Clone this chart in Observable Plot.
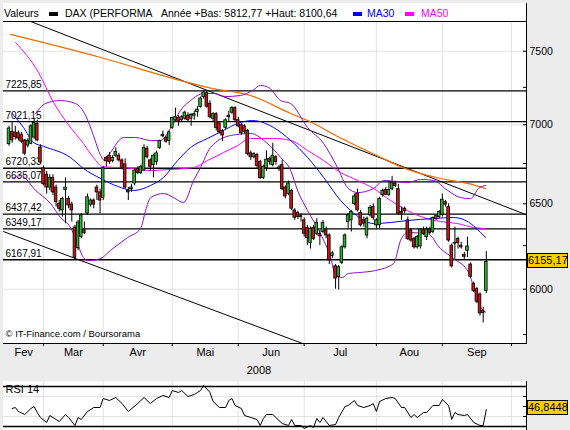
<!DOCTYPE html>
<html><head><meta charset="utf-8">
<script src="https://cdn.jsdelivr.net/npm/d3@7"></script>
<script src="https://cdn.jsdelivr.net/npm/@observablehq/plot@0.6"></script>
<style>
body{margin:0;background:#ececec;font-family:"Liberation Sans",Arial,sans-serif;}
#wrap{position:relative;width:570px;height:430px;overflow:hidden;background:#ececec}
.panel{position:absolute;background:#fff;box-sizing:border-box;border-right:1px solid #000}
.lg{position:absolute;font-size:10.5px;white-space:nowrap;top:7px;line-height:12px}
.sw{position:absolute;height:4px;width:9px;top:12px}
.box{position:absolute;left:527px;width:41px;height:15px;box-sizing:border-box;background:#ffcc00;border:1px solid #000;font-size:11px;line-height:13px;text-align:center}
svg{position:absolute;left:0;overflow:visible}
</style></head><body>
<div id="wrap">
  <div class="panel" style="left:3px;top:3px;width:524px;height:341px"></div>
  <div class="panel" style="left:3px;top:381px;width:524px;height:49px"></div>
</div>
<script>
// ---- data (trading-day numbers counted from 3 March 2008 = 0) ----
const firstDay = -11;
const open = [6874,6952,6950,6945,6935,6898,6865,6876,6917,7005,6852,
6720,6680,6600,6660,6600,6500,6460,6585,6530,6495,
6357,6235,6300,6340,6441,6495,6520,6600,6570,6535,
6785,6800,6765,6800,6800,6770,6745,6580,6590,6625,
6715,6690,6706,6845,6770,6740,6760,6850,6935,6915,
6895,6980,7030,7045,7030,7040,7060,7040,7060,7085,
7118,7185,7210,7140,7040,7070,7010,6960,6980,7050,
7080,7110,7030,7000,6990,6960,6815,6790,6805,6760,
6660,6720,6780,6740,6790,6715,6740,6600,6560,6580,
6460,6445,6425,6400,6355,6265,6355,6320,6320,6330,
6340,6310,6190,6130,6070,6150,6240,6390,6400,6500,
6560,6445,6400,6310,6430,6480,6370,6370,6555,6585,
6555,6590,6625,6590,6450,6470,6400,6340,6290,6240,
6245,6340,6300,6345,6330,6410,6420,6435,6510,6480,
6250,6265,6290,6250,6195,6220,6140,6030,6000,5970,
5880,5990];
const high = [6990,7021,6990,6960,6950,6905,6910,7000,7035,7030,6870,
6735,6700,6680,6680,6615,6520,6540,6660,6545,6510,
6369,6400,6440,6390,6560,6530,6530,6615,6590,6730,
6795,6820,6800,6850,6815,6780,6780,6600,6620,6720,
6730,6740,6870,6860,6780,6810,6830,6900,6960,6925,
6960,7050,7110,7060,7060,7090,7080,7075,7090,7120,
7185,7226,7225,7160,7080,7080,7020,6970,7040,7090,
7120,7120,7050,7010,7000,6970,6830,6820,6815,6770,
6740,6830,6790,6880,6800,6740,6770,6610,6640,6590,
6470,6455,6440,6415,6370,6360,6370,6410,6340,6400,
6360,6320,6215,6140,6135,6250,6320,6440,6460,6560,
6590,6460,6420,6420,6490,6500,6410,6540,6590,6600,
6640,6670,6640,6620,6480,6480,6420,6350,6300,6310,
6350,6360,6360,6360,6420,6430,6460,6560,6520,6500,
6260,6360,6300,6270,6210,6300,6150,6040,6010,5980,
5900,6215];
const low = [6860,6880,6900,6895,6880,6800,6850,6870,6905,6890,6745,
6610,6560,6580,6550,6480,6450,6420,6380,6470,6390,
6167.91,6220,6290,6315,6430,6480,6470,6520,6440,6520,
6730,6745,6755,6790,6760,6710,6590,6520,6570,6610,
6680,6680,6700,6780,6700,6660,6740,6840,6915,6880,
6865,6970,7020,6990,7020,7030,7020,6990,7030,7050,
7110,7170,7110,7040,7020,6960,6940,6890,6970,7020,
7070,7020,6980,6930,6940,6800,6770,6780,6720,6650,
6650,6700,6740,6730,6740,6700,6580,6530,6550,6460,
6400,6405,6390,6300,6250,6230,6280,6310,6250,6320,
6290,6140,6175,6000,5995,6140,6230,6350,6330,6490,
6450,6360,6360,6290,6420,6400,6350,6350,6540,6550,
6545,6580,6600,6430,6400,6440,6280,6270,6230,6230,
6230,6310,6280,6315,6320,6400,6410,6420,6480,6270,
6120,6170,6230,6230,6170,6180,6060,5980,5920,5850,
5812.77,5975];
const close = [6976,6898,6920,6911,6890,6813,6895,6990,7013,6898,6757,
6620,6600,6660,6570,6510,6470,6530,6600,6490,6460,
6180,6387,6430,6323,6540,6520,6495,6570,6520,6720,
6765,6760,6785,6825,6770,6720,6600,6570,6600,6706,
6690,6730,6850,6790,6730,6800,6815,6895,6925,6890,
6950,7045,7050,7020,7050,7080,7030,7065,7070,7100,
7175,7215,7120,7050,7070,6980,6950,6930,7030,7060,
7110,7030,6990,6945,6955,6810,6790,6810,6735,6660,
6730,6775,6760,6800,6760,6725,6590,6545,6625,6470,
6415,6420,6420,6320,6295,6350,6290,6385,6305,6385,
6310,6165,6205,6060,6125,6240,6310,6430,6450,6545,
6460,6370,6380,6410,6475,6415,6400,6530,6580,6555,
6585,6630,6610,6440,6440,6455,6290,6280,6240,6300,
6345,6320,6345,6325,6415,6425,6450,6525,6495,6280,
6130,6262,6265,6240,6185,6245,6070,5990,5930,5865,
5868,6155.17];

// moving averages / bands (day, value)
const ma30Day = [-10,-6.4,-3.2,0,8.6,12.7,18.2,23.6,28.7,34.1,38.2,42.7,46.8,52.2,57.3,61.8,66.6,73.2,78.7,84.1,89.2,94.6,97.8,105.1,110.5,115.9,124.2,130.6,136,139.2,140.8];
const ma30Value = [7075,6983,6885,6860,6788,6719,6656,6607,6582,6613,6663,6769,6852,6911,6963,7009,7028,6983,6898,6788,6663,6520,6459,6381,6387,6399,6411,6417,6381,6327,6298];
const ma50Day = [-8.9,-1.6,3.2,7.6,12.7,15.9,18.8,23.6,28.7,34.1,39.5,47.8,52.2,57.3,61.8,65.9,73.2,78.7,84.1,89.2,94.6,100,105.1,110.5,115.9,121,126.4,131.8,137,140.8];
const ma50Value = [7562,7352,7148,7009,6878,6788,6731,6725,6719,6706,6712,6725,6769,6820,6865,6911,6911,6898,6833,6769,6694,6644,6594,6520,6459,6417,6393,6381,6357,6351];
const bbUpDay = [-2.5,0.6,5.4,10.2,13.4,15.9,18.2,19.4,21.3,25.5,29.3,34.1,37.3,40.4,43.6,46.8,51,54.1,58,62.7,66.6,69.1,71.7,75.5,78.7,84.1,89.2,93.6,96.8,100,105.1,108.3,115.9,120.1,124.2,128.7,132.8,136,138.5,140.8];
const bbUpValue = [7075,7141,7161,7141,7061,6930,6801,6769,6820,6917,6917,6898,6898,6976,7095,7161,7209,7209,7188,7195,7229,7263,7249,7161,7141,6982,6878,6725,6600,6569,6594,6644,6631,6650,6644,6582,6538,6532,6594,6613];
const bbLoDay = [-9.9,-7.3,-2.5,2.2,5.4,8.6,10.8,12.7,14.3,18.2,21.3,26.8,30.9,32.5,34.1,38.2,41.4,44.6,47.8,50,53.2,59.6,65.9,71.3,75.5,78.7,80.9,84.1,88.2,91.4,93,95.2,97.1,100.3,105.7,111.5,113.7,115.9,122.3,126.4,130.6,135.4,137,138.5,140.8];
const bbLoValue = [6656,6675,6582,6502,6417,6357,6263,6181,6163,6175,6222,6298,6351,6459,6538,6563,6538,6508,6644,6725,6853,6930,6943,6878,6789,6706,6582,6459,6321,6181,6078,6066,6089,6094,6106,6146,6280,6327,6321,6233,6175,6094,6010,5922,5872];
const ma200Day = [-10.5,18.2,44.6,53.2,65.9,78.7,84.1,94.6,105.1,115.9,126.4,135.4,140.8];
const ma200Value = [7619,7456,7291,7245,7195,7075,7028,6914,6811,6713,6656,6624,6593];
const trendUpDay = [-4.1,153.8], trendUpValue = [7712,6433];
const trendLoDay = [-12.75,82.5], trendLoValue = [6333,5702];
const levels = [7225.85,7021.15,6720.33,6635.07,6437.42,6349.17,6167.91];
const rsiDay = [-10,-9,-8,-6,-4,-3,-2,-1,1,2,4,5,7,8,10,11,12,14,16,18,19,21,23,25,27,30,32,34,36,38,40,41,43,44,46,48,49,50,51,53,54,56,58,59,60,61,63,64,66,68,69,70,71,73,74,76,78,79,80,82,83,85,86,87,88,89,91,93,94,96,97,99,100,102,104,105,106,107,109,111,112,114,115,117,118,119,121,122,124,126,127,129,130,131,132,134,135,137,139,140,141];
const rsiValue = [48,49,45,42,48,50,44,39,34,41,37,35,42,39,31,39,37,45,49,49,58,56,59,53,45,53,59,53,58,61,59,66,64,66,60,62,64,66,71,64,55,49,49,56,58,51,48,41,39,37,31,38,42,42,39,33,31,37,31,31,28,31,29,38,34,39,31,32,39,50,51,56,51,49,51,53,45,55,58,59,58,49,49,39,42,39,44,44,51,51,57,51,37,44,42,41,42,34,31,31,46.8448];
const monthStarts = [0,19,41,62,83,106,127,149];
const monthNames = ["Fev","Mar","Avr","Mai","Jun","Jul","Aou","Sep"];
const monthMid = [-6.35,9.5,30,51.5,72.5,94.5,116.5,138];
const priceTicks = [6000,6500,7000,7500];
const priceMinor = [5750,6250,6750,7250];
const rsiTicks = [30,40,50,60,70];
const xDomain = [-12.75,153.8];
const yDomain = [5702,7712];
const rsiDomain = [26,75];

// ---- build ----
const candles = open.map((o,k)=>({day:firstDay+k, open:o, high:high[k], low:low[k], close:close[k]}));
const pts = (ds,vs)=>ds.map((d,k)=>({day:d, value:vs[k]}));
const fr = v => v.toFixed(2).replace(".", ",");
const GREEN="#2bb52b", RED="#d01414", GRID="#e2e2e2";
const font = '"Liberation Sans",Arial,sans-serif';

const main = Plot.plot({
  width:570, height:378, marginLeft:3, marginRight:44, marginTop:21, marginBottom:35,
  style:{background:"transparent", fontFamily:font, fontSize:"10px", color:"#000"},
  x:{domain:xDomain, axis:null},
  y:{type:"log", domain:yDomain, axis:null},
  marks:[
    Plot.ruleX(monthStarts,{stroke:GRID}),
    Plot.ruleY(priceTicks,{stroke:GRID}),
    Plot.ruleY(levels,{stroke:"#000", strokeWidth:1.3}),
    Plot.text(levels,{y:d=>d, frameAnchor:"left", dx:2, dy:-6, text:fr, textAnchor:"start", fontSize:10, fill:"#000"}),
    Plot.line(pts(trendUpDay,trendUpValue),{x:"day",y:"value",stroke:"#000",strokeWidth:1,clip:true}),
    Plot.line(pts(trendLoDay,trendLoValue),{x:"day",y:"value",stroke:"#000",strokeWidth:1,clip:true}),
    Plot.line(pts(ma200Day,ma200Value),{x:"day",y:"value",stroke:"#f26a00",strokeWidth:1.2,curve:"monotone-x"}),
    Plot.line(pts(bbUpDay,bbUpValue),{x:"day",y:"value",stroke:"#8a10c8",strokeWidth:1,curve:"monotone-x"}),
    Plot.line(pts(bbLoDay,bbLoValue),{x:"day",y:"value",stroke:"#8a10c8",strokeWidth:1,curve:"monotone-x"}),
    Plot.line(pts(ma50Day,ma50Value),{x:"day",y:"value",stroke:"#ff00ff",strokeWidth:1,curve:"monotone-x"}),
    Plot.line(pts(ma30Day,ma30Value),{x:"day",y:"value",stroke:"#0000ff",strokeWidth:1,curve:"monotone-x"}),
    Plot.ruleX(candles,{x:"day", y1:"low", y2:"high", stroke:"#000", strokeWidth:1}),
    Plot.rect(candles,{x1:d=>d.day-0.42, x2:d=>d.day+0.42, y1:"open", y2:"close",
      fill:d=>d.close>=d.open?GREEN:RED, stroke:"#000", strokeWidth:0.8}),
    Plot.text(["\u00a9 IT-Finance.com / Boursorama"],{frameAnchor:"bottom-left", dx:2, dy:-7, fontSize:9.5, textAnchor:"start", fill:"#000"}),
    Plot.text(monthNames,{x:(d,k)=>monthMid[k], frameAnchor:"bottom", dy:12.5, fontSize:11, fill:"#000"}),
    Plot.axisY({anchor:"right", label:null, ticks:priceTicks, tickSize:-4, tickPadding:7, tickFormat:d=>String(d), fontSize:10.5}),
    Plot.axisY({anchor:"right", label:null, ticks:priceMinor, tickSize:-4, tickFormat:()=>""}),
    Plot.axisX({label:null, ticks:monthStarts, tickSize:3, tickFormat:()=>""}),
    Plot.ruleX([xDomain[1]],{stroke:"#000"}),
    Plot.ruleY([yDomain[0]],{stroke:"#000"}),
    Plot.ruleY([yDomain[1]],{stroke:"#000"})
  ]
});
main.style.top = "0px";

const rsi = Plot.plot({
  width:570, height:54, marginLeft:3, marginRight:44, marginTop:5, marginBottom:0,
  style:{background:"transparent", fontFamily:font, fontSize:"10px", color:"#000"},
  x:{domain:xDomain, axis:null},
  y:{domain:rsiDomain, axis:null},
  marks:[
    Plot.ruleX(monthStarts,{stroke:GRID}),
    Plot.ruleY([40,60],{stroke:GRID}),
    Plot.ruleY([30,70],{stroke:"#000", strokeWidth:1.3}),
    Plot.line(pts(rsiDay,rsiValue),{x:"day",y:"value",stroke:"#000",strokeWidth:1}),
    Plot.text(["RSI 14"],{frameAnchor:"top-left", dx:2, dy:4, lineAnchor:"top", fontSize:11, textAnchor:"start", fill:"#000"}),
    Plot.axisY({anchor:"right", label:null, ticks:rsiTicks, tickSize:-4, tickFormat:()=>""}),
    Plot.ruleX([xDomain[1]],{stroke:"#000"})
  ]
});
rsi.style.top = "376px";

const wrap = document.getElementById("wrap");
wrap.appendChild(main);
wrap.appendChild(rsi);

// legend and labels (HTML text)
function add(html, css, cls){ const d=document.createElement("div"); d.className=cls||""; d.style.cssText=css; d.innerHTML=html; wrap.appendChild(d); return d; }
add("Valeurs","left:4px","lg");
add("","left:49px;background:#000","sw");
add("DAX (PERFORMA","left:65px","lg");
add("Année +Bas: 5812,77 +Haut: 8100,64","left:161px","lg");
add("","left:353px;background:#0000ff","sw");
add("MA30","left:367px;color:#0000ff","lg");
add("","left:405px;background:#ff00ff","sw");
add("MA50","left:421px;color:#ff00ff","lg");
add("2008","position:absolute;left:239px;width:40px;text-align:center;top:364px;font-size:11px","");

const lastClose = close[close.length-1];
const py = main.scale("y").apply(lastClose);
add(fr(lastClose), "top:"+(py-8)+"px", "box");
const lastRsi = rsiValue[rsiValue.length-1];
const ry = rsi.scale("y").apply(lastRsi) + 376;
add(lastRsi.toFixed(4).replace(".", ","), "top:"+(ry-9)+"px", "box");
</script>
</body></html>
